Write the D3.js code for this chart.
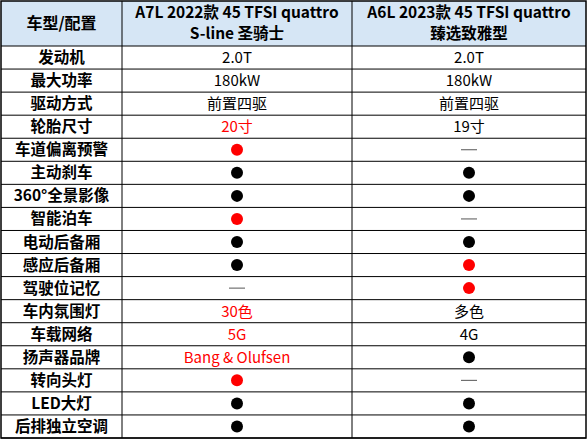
<!DOCTYPE html><html><head><meta charset="utf-8"><script src="https://cdn.jsdelivr.net/npm/d3@7"></script>
<style>body{margin:0;background:#fff}</style></head><body><svg id="c" width="587" height="439"></svg>
<script>
const headers=["车型/配置",["A7L 2022款 45 TFSI quattro","S-line 圣骑士"],["A6L 2023款 45 TFSI quattro","臻选致雅型"]];
const features=["发动机","最大功率","驱动方式","轮胎尺寸","车道偏离预警","主动刹车","360°全景影像","智能泊车","电动后备厢","感应后备厢","驾驶位记忆","车内氛围灯","车载网络","扬声器品牌","转向头灯","LED大灯","后排独立空调"];
// "B"=black dot, "R"=red dot, "-"=none; text prefixed with "r:" is red
const a7l=["2.0T","180kW","前置四驱","r:20寸","R","B","B","R","B","B","-","r:30色","r:5G","r:Bang & Olufsen","R","B","B"];
const a6l=["2.0T","180kW","前置四驱","19寸","-","B","B","-","B","R","R","多色","4G","B","-","B","B"];
const svg=d3.select("#c");
const colX=[1,122,352,586];
const y=d3.scaleBand().domain(d3.range(features.length)).range([46,438]);
const font="'Noto Sans CJK SC','Liberation Sans',sans-serif";
svg.append("rect").attr("x",1).attr("y",1).attr("width",585).attr("height",45).attr("fill","#d6e6f5");
const cx=i=>(colX[i]+colX[i+1])/2;
svg.append("text").attr("x",cx(0)).attr("y",29).attr("text-anchor","middle").attr("font-family",font).attr("font-weight","bold").attr("font-size",16).text(headers[0]);
[1,2].forEach(i=>headers[i].forEach((t,k)=>svg.append("text").attr("x",cx(i)).attr("y",18+k*21).attr("text-anchor","middle").attr("font-family",font).attr("font-weight","bold").attr("font-size",15.5).text(t)));
features.forEach((f,r)=>{
 const yc=y(r)+y.bandwidth()/2;
 svg.append("text").attr("x",cx(0)).attr("y",yc+5.5).attr("text-anchor","middle").attr("font-family",font).attr("font-weight","bold").attr("font-size",15.5).text(f);
 [a7l,a6l].forEach((arr,j)=>{
  const v=arr[r], x=cx(j+1);
  if(v==="B"||v==="R") svg.append("circle").attr("cx",x).attr("cy",yc).attr("r",6).attr("fill",v==="R"?"#ff0000":"#000");
  else if(v==="-") svg.append("line").attr("x1",x-8).attr("x2",x+8).attr("y1",yc).attr("y2",yc).attr("stroke","#555").attr("stroke-width",1);
  else { const red=v.startsWith("r:"); svg.append("text").attr("x",x).attr("y",yc+5.5).attr("text-anchor","middle").attr("font-family",font).attr("font-size",15).attr("fill",red?"#ff0000":"#000").text(red?v.slice(2):v);}
 });
});
const g=svg.append("g").attr("stroke","#000").attr("stroke-width",1);
[46,...features.map((_,r)=>y(r)+y.bandwidth())].forEach(yy=>g.append("line").attr("x1",1).attr("x2",586).attr("y1",yy).attr("y2",yy));
colX.slice(1,3).forEach(xx=>g.append("line").attr("x1",xx).attr("x2",xx).attr("y1",1).attr("y2",438));
svg.append("rect").attr("x",1).attr("y",1).attr("width",585).attr("height",437).attr("fill","none").attr("stroke","#000").attr("stroke-width",1.5);
</script></body></html>
